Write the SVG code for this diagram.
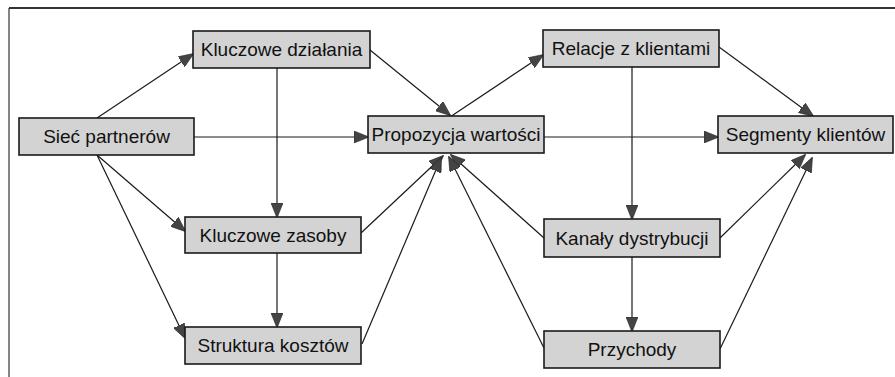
<svg xmlns="http://www.w3.org/2000/svg" width="895" height="377" viewBox="0 0 895 377">
<defs>
<marker id="ah" markerUnits="userSpaceOnUse" markerWidth="15" markerHeight="12" viewBox="0 0 15 12" refX="14" refY="6" orient="auto">
<path d="M0,0 L15,6 L0,12 Z" fill="#444" stroke="#222" stroke-width="0.6"/>
</marker>
</defs>
<style>
.box{fill:#d3d3d3;stroke:#1a1a1a;stroke-width:1.6}
.lbl{font-family:"Liberation Sans","DejaVu Sans",sans-serif;font-size:19px;fill:#111;text-anchor:middle;dominant-baseline:central}
.c{stroke:#1a1a1a;stroke-width:1.2;fill:none;marker-end:url(#ah)}
.frame{stroke:#333;fill:none}
</style>
<rect width="895" height="377" fill="#fff"/>
<line class="frame" x1="9" y1="8" x2="895" y2="8" stroke-width="2"/>
<line class="frame" x1="9" y1="8" x2="9" y2="377" stroke-width="1.2"/>
<g id="connectors">
<line class="c" x1="97" y1="118" x2="193" y2="54"/>
<line class="c" x1="370" y1="50" x2="450" y2="115"/>
<line class="c" x1="194" y1="137" x2="368" y2="137"/>
<line class="c" x1="277" y1="68" x2="277" y2="217"/>
<line class="c" x1="97" y1="155" x2="185" y2="231"/>
<line class="c" x1="97" y1="155" x2="185" y2="338"/>
<line class="c" x1="277" y1="253" x2="277" y2="327"/>
<line class="c" x1="361" y1="233" x2="443" y2="156"/>
<line class="c" x1="362" y1="344" x2="441" y2="158"/>
<line class="c" x1="544" y1="238" x2="451" y2="155"/>
<line class="c" x1="544" y1="348" x2="449" y2="157"/>
<line class="c" x1="450" y1="117" x2="543" y2="55"/>
<line class="c" x1="719" y1="47" x2="813" y2="116"/>
<line class="c" x1="544" y1="137" x2="718" y2="137"/>
<line class="c" x1="632" y1="67" x2="632" y2="219"/>
<line class="c" x1="632" y1="257" x2="632" y2="331"/>
<line class="c" x1="720" y1="238" x2="805" y2="155"/>
<line class="c" x1="720" y1="349" x2="812" y2="158"/>
</g>
<g id="n-kd"><rect class="box" x="193" y="31" width="177" height="37"/><text class="lbl" x="281.5" y="49.5">Kluczowe działania</text></g>
<g id="n-sp"><rect class="box" x="19" y="118" width="175" height="37"/><text class="lbl" x="106.5" y="136.5">Sieć partnerów</text></g>
<g id="n-pw"><rect class="box" x="368" y="116" width="176" height="37"/><text class="lbl" x="456" y="134.5">Propozycja wartości</text></g>
<g id="n-rk"><rect class="box" x="543" y="30" width="176" height="37"/><text class="lbl" x="631" y="48.5">Relacje z klientami</text></g>
<g id="n-sk"><rect class="box" x="718" y="116" width="175" height="37"/><text class="lbl" x="805.5" y="134.5">Segmenty klientów</text></g>
<g id="n-kz"><rect class="box" x="185" y="217" width="176" height="36"/><text class="lbl" x="273" y="235">Kluczowe zasoby</text></g>
<g id="n-st"><rect class="box" x="185" y="327" width="176" height="37"/><text class="lbl" x="273" y="345.5">Struktura kosztów</text></g>
<g id="n-kn"><rect class="box" x="544" y="219" width="176" height="38"/><text class="lbl" x="632" y="238">Kanały dystrybucji</text></g>
<g id="n-pr"><rect class="box" x="544" y="331" width="176" height="37"/><text class="lbl" x="632" y="349.5">Przychody</text></g>
</svg>
